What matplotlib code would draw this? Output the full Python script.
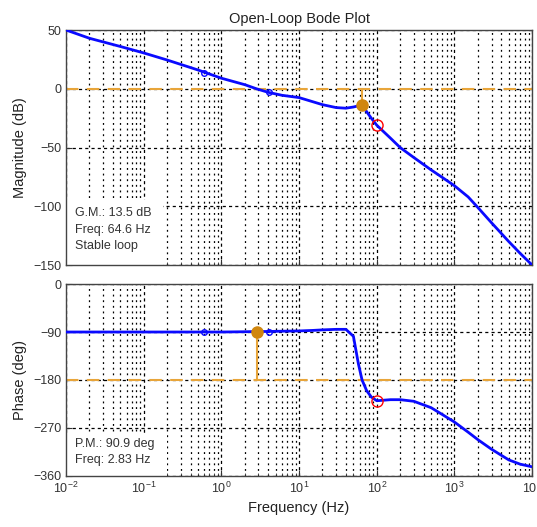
import matplotlib
matplotlib.use("Agg")
import matplotlib.pyplot as plt
from matplotlib.patches import Rectangle
from matplotlib.ticker import LogLocator, NullFormatter
import numpy as np

plt.rcParams['font.family'] = ['Liberation Sans', 'DejaVu Sans']

# open-loop response
freq = [0.01, 0.02, 0.05, 0.1, 0.2, 0.5, 1, 2, 2.83, 4, 6, 10, 15, 20, 30, 40,
        50, 58, 64.6, 74, 85, 100, 150, 200, 300, 500, 700, 1000, 1500, 2000,
        3000, 5000, 7000, 10000]
mag_db = [50, 43, 36, 30.5, 24.5, 16, 9, 3.5, 0, -3, -5.5, -7.5, -11, -13.5, -16,
          -16.5, -15.5, -14.5, -13.5, -19.5, -25, -31, -42, -50, -58.5, -69, -75.5,
          -82.5, -92, -101, -114, -130, -140, -150]
phase_deg = [-90, -90, -90, -90, -90, -90, -90, -89.5, -89.1, -89, -88.5, -88,
             -87, -86, -85, -85, -98, -150, -180, -200, -212, -219, -217, -217,
             -220, -232, -245, -259, -278, -292, -310, -330, -338, -343]

# small data-point markers on the curves
mark_freq = [0.6, 4.1]
mark_mag = [13.5, -3]
mark_phase = [-90, -90]

# stability margins
gm_db = 13.5
gm_freq = 64.6
pm_deg = 90.9
pm_freq = 2.83
bw_freq = 100
bw_mag = -31
bw_phase = -219

blue = '#0a0aff'
orange = '#e8a53a'
dot_orange = '#d0860e'

fig = plt.figure(figsize=(5.37, 5.27), dpi=100)
ax1 = fig.add_axes([0.123, 0.497, 0.868, 0.446])
ax2 = fig.add_axes([0.123, 0.097, 0.868, 0.364])

for ax in (ax1, ax2):
    ax.set_xscale('log')
    ax.set_xlim(0.01, 10000)
    ax.set_xticks(10.0 ** np.arange(-2, 5))
    ax.set_axisbelow(True)
    ax.xaxis.set_minor_locator(LogLocator(base=10, subs=np.arange(2, 10)))
    ax.xaxis.set_minor_formatter(NullFormatter())
    ax.grid(True, which='major', axis='both', color='black', linestyle=(0, (2.5, 2.5)), linewidth=0.9)
    ax.grid(True, which='minor', axis='x', color='black', linestyle=(0, (1.5, 3)), linewidth=0.9)
    ax.tick_params(direction='in', which='both', labelsize=9, colors='#333333')
    ax.tick_params(which='major', length=4)
    ax.tick_params(which='minor', length=2)
    for s in ax.spines.values():
        s.set_color('#444444')
        s.set_linewidth(1.0)

# magnitude
ax1.set_ylim(-150, 50)
ax1.set_yticks([50, 0, -50, -100, -150])
ax1.tick_params(labelbottom=False)
ax1.axhline(0, color=orange, linestyle=(0, (6, 4)), linewidth=1.5, zorder=2)
ax1.plot(freq, mag_db, color=blue, linewidth=2, zorder=3)
ax1.plot(mark_freq, mark_mag, 'o', mfc='none', mec=blue, ms=4, zorder=3)
ax1.plot([gm_freq, gm_freq], [0, -gm_db], color=orange, linewidth=1.5, zorder=3)
ax1.plot(gm_freq, -gm_db, 'o', color=dot_orange, ms=8, zorder=4)
ax1.plot(bw_freq, bw_mag, 'o', mfc='none', mec='red', ms=8, zorder=4)
ax1.add_patch(Rectangle((0, 0), 0.208, 0.277, transform=ax1.transAxes,
                        fc='white', ec='none', zorder=1))
ax1.text(0.02, 0.245, 'G.M.: %.1f dB\nFreq: %.1f Hz\nStable loop' % (gm_db, gm_freq),
         transform=ax1.transAxes, va='top', ha='left', fontsize=9,
         color='#333333', linespacing=1.5, zorder=5)
ax1.set_ylabel('Magnitude (dB)', fontsize=10.5, color='#222222')
ax1.set_title('Open-Loop Bode Plot', fontsize=10.5, color='#222222', pad=5)

# phase
ax2.set_ylim(-360, 0)
ax2.set_yticks([0, -90, -180, -270, -360])
ax2.axhline(-180, color=orange, linestyle=(0, (6, 4)), linewidth=1.5, zorder=2)
ax2.plot(freq, phase_deg, color=blue, linewidth=2, zorder=3)
ax2.plot(mark_freq, mark_phase, 'o', mfc='none', mec=blue, ms=4, zorder=3)
ax2.plot([pm_freq, pm_freq], [-180, pm_deg - 180], color=orange, linewidth=1.5, zorder=3)
ax2.plot(pm_freq, pm_deg - 180, 'o', color=dot_orange, ms=8, zorder=4)
ax2.plot(bw_freq, bw_phase, 'o', mfc='none', mec='red', ms=8, zorder=4)
ax2.add_patch(Rectangle((0, 0), 0.217, 0.224, transform=ax2.transAxes,
                        fc='white', ec='none', zorder=1))
ax2.text(0.02, 0.2, 'P.M.: %.1f deg\nFreq: %.2f Hz' % (pm_deg, pm_freq),
         transform=ax2.transAxes, va='top', ha='left', fontsize=9,
         color='#333333', linespacing=1.5, zorder=5)
ax2.set_ylabel('Phase (deg)', fontsize=10.5, color='#222222')
ax2.set_xlabel('Frequency (Hz)', fontsize=10.5, color='#222222')

fig.savefig('out.png', dpi=100)
